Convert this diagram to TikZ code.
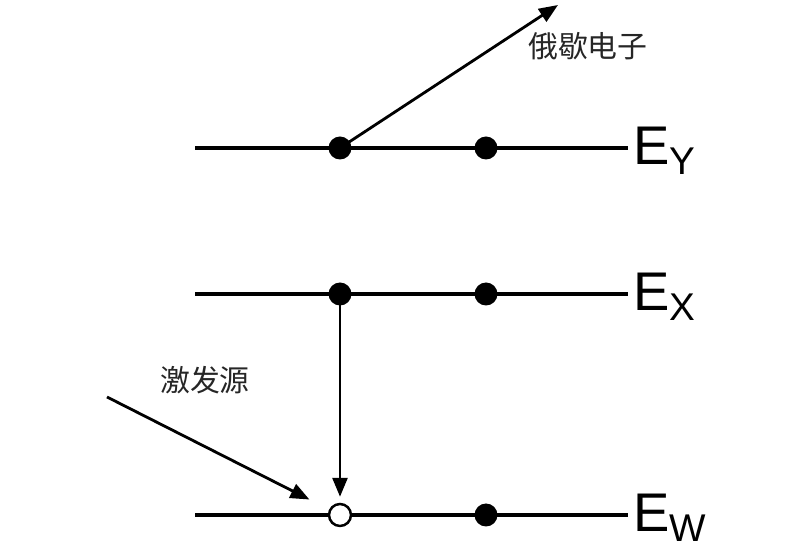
\documentclass[tikz,border=0pt]{standalone}
\usepackage{fontspec}
\setmainfont{Liberation Sans}
\newfontfamily\cjk{Noto Sans CJK SC}
\usetikzlibrary{arrows.meta, positioning}

\begin{document}
\begin{tikzpicture}[
    x=0.02cm, y=-0.02cm,
    >={Triangle[length=3.8mm, width=3mm]},
    level/.style={line width=2.2pt, black},
    dot/.style={circle, fill=black, inner sep=0pt, minimum size=4.6mm},
    hole/.style={circle, draw=black, fill=white, line width=1.4pt,
        inner sep=0pt, minimum size=4.4mm},
    arr/.style={->, line width=1.6pt},
    elabel/.style={anchor=base west, inner sep=0pt, font=\fontsize{31}{31}\selectfont},
    cnlabel/.style={font=\cjk\fontsize{17}{17}\selectfont, text=black!85},
]
\useasboundingbox (0,0) rectangle (796,560);

% --- energy levels ---------------------------------------------------
\draw[level] (195,148) -- (628,148);
\draw[level] (195,294) -- (628,294);
\draw[level] (195,515) -- (628,515);

% --- electrons and the hole -------------------------------------------
\node[dot]  (y1) at (340,148) {};
\node[dot]  (y2) at (486,148) {};
\node[dot]  (x1) at (340,294) {};
\node[dot]  (x2) at (486,294) {};
\node[hole] (w1) at (340,515) {};
\node[dot]  (w2) at (486,515) {};

% --- level names -------------------------------------------------------
\node[elabel] (ey) at (633,165) {E\raisebox{-5.6pt}{\fontsize{22}{22}\selectfont Y}};
\node[elabel] (ex) at (633,311) {E\raisebox{-5.6pt}{\fontsize{22}{22}\selectfont X}};
\node[elabel] (ew) at (633,532) {E\raisebox{-5.6pt}{\fontsize{22}{22}\selectfont W}};

% --- Auger electron ------------------------------------------------------
\coordinate (out) at (558,5);
\node[cnlabel] (auger) at (588,46) {俄歇电子};
\draw[arr] (y1.center) -- (out);

% --- excitation source and transition --------------------------------------
\coordinate (src) at (107,397);
\node[cnlabel] (exc) at (205,380) {激发源};
\draw[arr, shorten >=4.4mm] (src) -- (w1);
\draw[arr, shorten >=1.2mm] (x1.center) -- (w1);

\end{tikzpicture}
\end{document}
